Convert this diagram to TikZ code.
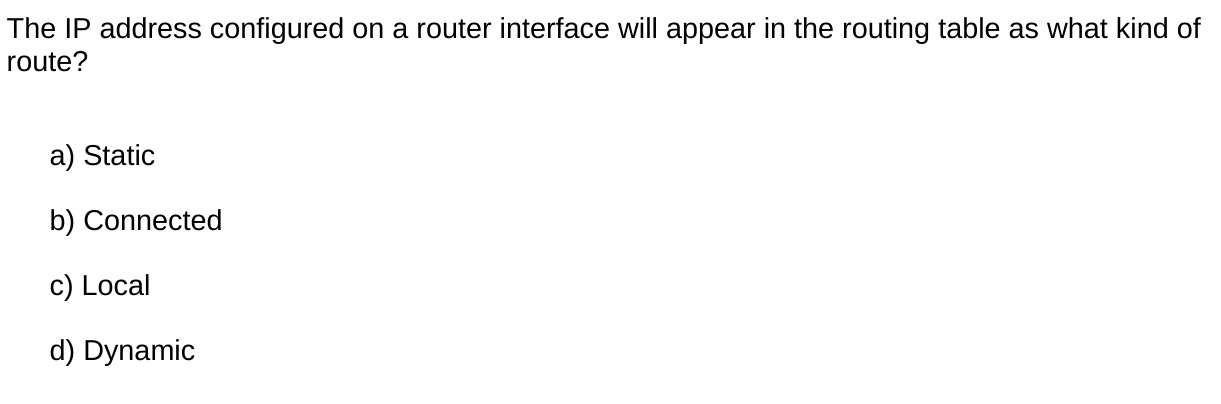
\documentclass[tikz,border=0pt]{standalone}
\usepackage{fontspec}
\setmainfont{Liberation Sans}
\usetikzlibrary{positioning}

\begin{document}
\begin{tikzpicture}
[
x=1pt,y=-1pt,
question/.style={anchor=base west,inner sep=0pt,font=\fontsize{28.8}{32}\selectfont},
answer/.style={anchor=base west,inner sep=0pt,font=\fontsize{28.8}{32}\selectfont},
]
\useasboundingbox[fill=white] (0,0) rectangle (1221,404);

% Question
\node[question] (q1) at (6.5,39) {The IP address configured on a router interface will appear in the routing table as what kind of};
\node[question] (q2) at (6.5,71) {route?};

% Answers
\node[answer] (a) at (49.5,165) {a) Static};
\node[answer] (b) at (49.5,230) {b) Connected};
\node[answer] (c) at (49.5,295) {c) Local};
\node[answer] (d) at (49.5,360) {d) Dynamic};

\end{tikzpicture}
\end{document}
